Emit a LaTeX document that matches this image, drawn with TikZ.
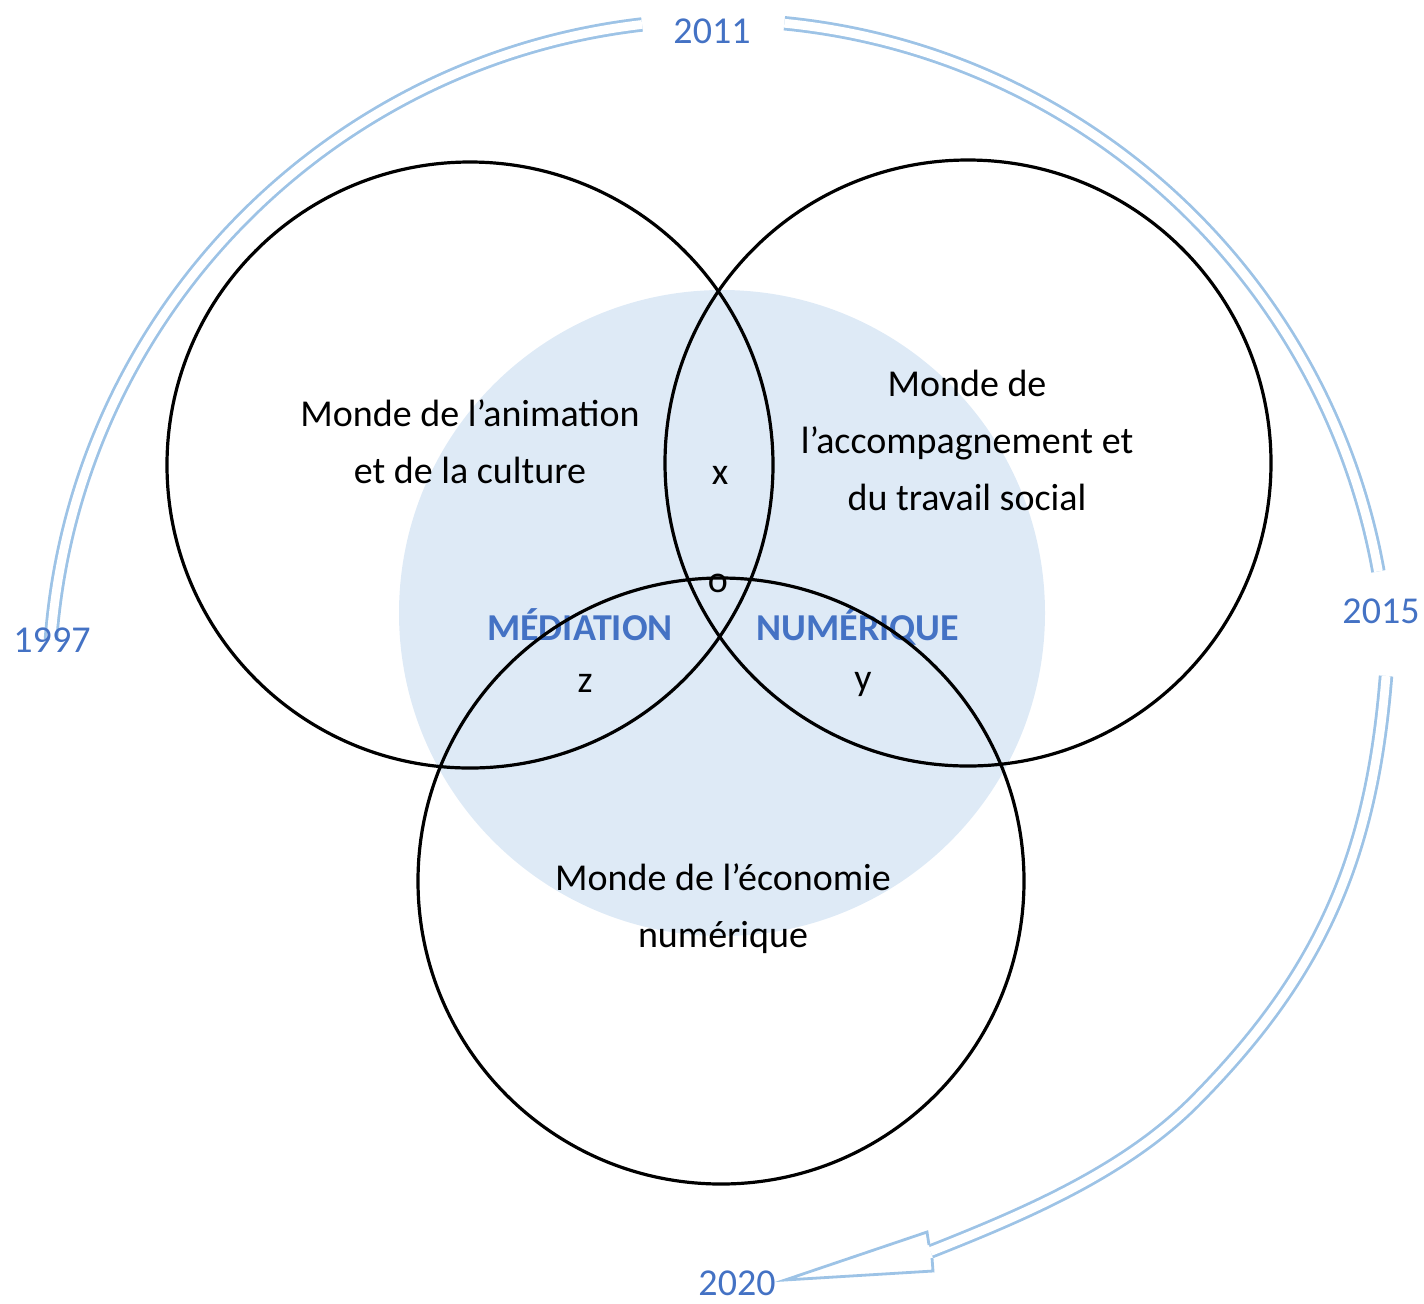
\documentclass[tikz,border=0pt]{standalone}
\usepackage{fontspec}
\setmainfont{Carlito}
\definecolor{bleutexte}{HTML}{4472C4}
\definecolor{bleubande}{HTML}{9DC3E6}
\definecolor{bleufond}{HTML}{DEEAF6}
\tikzset{
  every node/.style={font=\fontsize{19pt}{28.5pt}\selectfont, inner sep=0pt},
  monde/.style={align=center}, % texts of the three worlds
  lettre/.style={anchor=base},
  mot/.style={text=bleutexte, font=\fontsize{19pt}{28.5pt}\selectfont\bfseries, anchor=base},
  annee/.style={text=bleutexte, anchor=base},
  cercle/.style={draw=black, line width=1.6pt},
  bande/.style={draw=bleubande, line width=1.4pt, double=white, double distance=4.4pt} % the time line
}
\begin{document}
\begin{tikzpicture}[x=0.5pt, y=-0.5pt]
    \useasboundingbox (0,0) rectangle (1424,1303);

    % shaded zone
    \fill[bleufond] (722,613) circle[radius=323];

    \node[monde] (monde_animation) at (470,442) {Monde de l’animation\\et de la culture};
    \node[monde] (monde_social) at (967,440) {Monde de\\l’accompagnement et\\du travail social};
    \node[monde] (monde_economie) at (723,909) {Monde de l’économie\\numérique};

    \node[mot] (mediation) at (580,640) {MÉDIATION};
    \node[mot] (numerique) at (858,640) {NUMÉRIQUE};

    \node[lettre] (lettre_x) at (720,484) {x};
    \node[lettre] (lettre_o) at (718,592) {o};
    \node[lettre] (lettre_z) at (585,692) {z};
    \node[lettre] (lettre_y) at (863,690) {y};

    % the three worlds
    \draw[cercle] (470,465) circle[radius=303];
    \draw[cercle] (968,463) circle[radius=303];
    \draw[cercle] (721,881) circle[radius=303];

    % time line
    \coordinate (centre) at (719,690);
    \draw[bande] (centre) ++(184.3:670) arc[start angle=184.3, end angle=263.4, radius=670];
    \draw[bande] (centre) ++(275.6:670) arc[start angle=275.6, end angle=349.8, radius=670];
    \draw[bande] (1386,676) .. controls (1371.6,856) and (1321.7,973.2) .. (1195,1101)
      .. controls (1124.6,1172) and (1023.5,1214.7) .. (930.5,1251.5);
    \draw[draw=bleubande, line width=1.4pt, fill=white]
      (929,1245) -- (927,1232) -- (785,1280) -- (933,1271) -- (932,1258);

    \node[annee] (annee_1997) at (52,652) {1997};
    \node[annee] (annee_2011) at (712,43) {2011};
    \node[annee] (annee_2015) at (1381,623) {2015};
    \node[annee] (annee_2020) at (737,1295) {2020};
\end{tikzpicture}
\end{document}
